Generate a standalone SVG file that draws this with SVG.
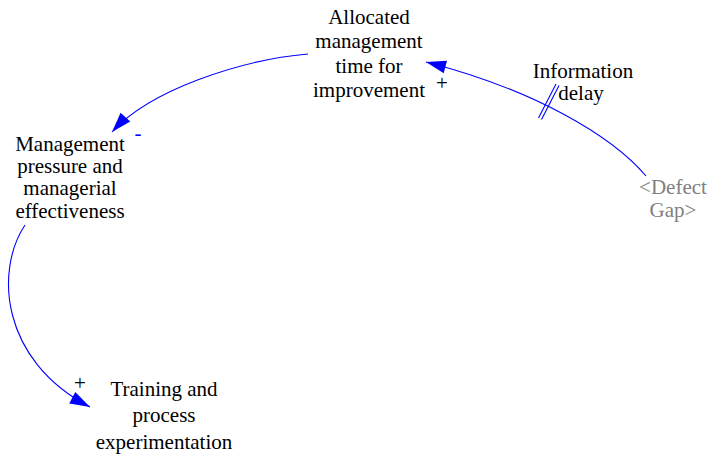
<svg xmlns="http://www.w3.org/2000/svg" width="711" height="454" viewBox="0 0 711 454">
  <style>
    .lbl { font-family: 'Liberation Serif', 'Times New Roman', serif; font-size: 21px; text-anchor: middle; fill: #000; }
    .shadow { fill: #808080; }
    .link { fill: none; stroke: #0000ff; stroke-width: 1.1; }
  </style>
  <defs>
    <marker id="head" markerUnits="userSpaceOnUse" markerWidth="22" markerHeight="14" viewBox="-21 -7 22 14" refX="0" refY="0" orient="auto">
      <path d="M0,0 L-20,-6.5 L-20,6.5 z" fill="#0000ff"/>
    </marker>
  </defs>
  <rect width="711" height="454" fill="#fff"/>

  <g id="connectors">
    <path class="link" d="M646,176 C612,136 535,90 426,62" marker-end="url(#head)"/>
    <!-- delay marks across the information link -->
    <line class="link" x1="538.5" y1="118" x2="556" y2="84"/>
    <line class="link" x1="541.5" y1="119.5" x2="559" y2="85.5"/>
    <path class="link" d="M308,54 C240,60 150,90 112,132" marker-end="url(#head)"/>
    <path class="link" d="M25,225 C-5,270 0,360 90,407" marker-end="url(#head)"/>
    <text class="lbl" x="442" y="90">+</text>
    <text class="lbl" x="138" y="140" style="fill:#0000ff">-</text>
    <text class="lbl" x="80" y="390">+</text>
  </g>

  <g id="allocated-time">
    <text class="lbl" x="369" y="24">Allocated</text>
    <text class="lbl" x="369" y="48.3">management</text>
    <text class="lbl" x="369" y="72.6">time for</text>
    <text class="lbl" x="369" y="97">improvement</text>
  </g>

  <g id="management-pressure">
    <text class="lbl" x="70" y="151">Management</text>
    <text class="lbl" x="70" y="173.2">pressure and</text>
    <text class="lbl" x="70" y="195.4">managerial</text>
    <text class="lbl" x="70" y="217.6">effectiveness</text>
  </g>

  <g id="training">
    <text class="lbl" x="164" y="395.5">Training and</text>
    <text class="lbl" x="164" y="422">process</text>
    <text class="lbl" x="164" y="448.5">experimentation</text>
  </g>

  <g id="defect-gap">
    <text class="lbl shadow" x="673" y="194">&lt;Defect</text>
    <text class="lbl shadow" x="673" y="216.5">Gap&gt;</text>
  </g>

  <g id="information-delay">
    <text class="lbl" x="583" y="77.5">Information</text>
    <text class="lbl" x="581" y="99.5">delay</text>
  </g>
</svg>
